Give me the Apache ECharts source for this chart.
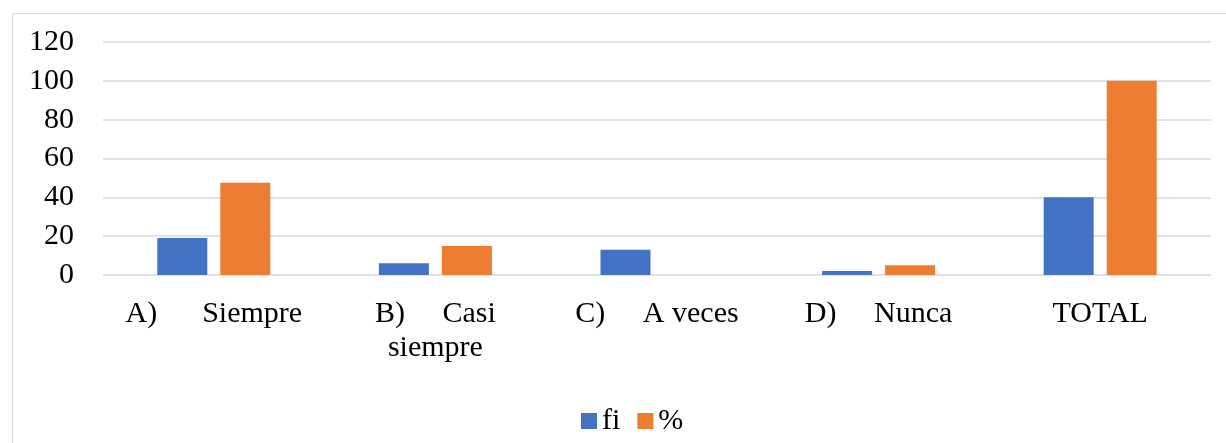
<!DOCTYPE html>
<html>
<head>
<meta charset="utf-8">
<script src="https://cdn.jsdelivr.net/npm/echarts@6/dist/echarts.min.js"></script>
<style>
  html, body { margin: 0; padding: 0; background: #fff; }
  #main { width: 1226px; height: 443px; }
</style>
</head>
<body>
<div id="main"></div>
<script>
// categories as they appear under the axis (spaces mimic the tab in the source)
const categories = [
  'A)      Siempre',
  'B)     Casi\nsiempre',
  'C)     A veces',
  'D)     Nunca',
  'TOTAL'
];
const legendNames = ['fi', '%'];
const fiValues = [19, 6, 13, 2, 40];
const pctValues = [47.5, 15, 0, 5, 100];
const yTicks = { min: 0, max: 120, interval: 20 };

const serif = "'Liberation Serif', 'Times New Roman', serif";

const chart = echarts.init(document.getElementById('main'));

const option = {
  backgroundColor: '#ffffff',
  animation: false,
  color: ['#4472C4', '#ED7D31'],
  graphic: [
    {
      type: 'rect',
      left: 10,
      top: 11,
      shape: { width: 1400, height: 600 },
      style: { fill: 'none', stroke: '#d9d9d9', lineWidth: 1 },
      silent: true
    }
  ],
  legend: {
    data: legendNames,
    left: 576,
    top: 401,
    itemWidth: 16,
    itemHeight: 16,
    itemGap: 17,
    icon: 'rect',
    textStyle: { fontFamily: serif, fontSize: 30, color: '#000' }
  },
  grid: {
    left: 103,
    right: 15,
    top: 42,
    bottom: 168,
    containLabel: false
  },
  xAxis: {
    type: 'category',
    data: categories,
    axisLine: { show: false },
    axisTick: { show: false },
    axisLabel: {
      interval: 0,
      margin: 22,
      fontFamily: serif,
      fontSize: 30,
      lineHeight: 34,
      color: '#000'
    }
  },
  yAxis: {
    type: 'value',
    min: yTicks.min,
    max: yTicks.max,
    interval: yTicks.interval,
    axisLine: { show: false },
    axisTick: { show: false },
    axisLabel: {
      margin: 29,
      fontFamily: serif,
      fontSize: 30,
      color: '#000'
    },
    splitLine: { lineStyle: { color: '#d9d9d9', width: 1.5 } }
  },
  series: [
    {
      name: legendNames[0],
      type: 'bar',
      data: fiValues,
      barGap: '26%',
      barCategoryGap: '49%'
    },
    {
      name: legendNames[1],
      type: 'bar',
      data: pctValues,
      barGap: '26%',
      barCategoryGap: '49%'
    }
  ]
};

chart.setOption(option);
</script>
</body>
</html>
